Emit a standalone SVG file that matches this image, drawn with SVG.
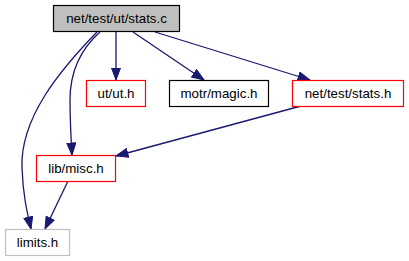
<svg xmlns="http://www.w3.org/2000/svg" width="409" height="261" viewBox="0 0 409 261">
  <style>
    .node rect { stroke-width: 1.2; }
    .node text { font-family: "Liberation Sans", Arial, Helvetica, sans-serif; font-size: 13.33px; fill: #000; text-anchor: middle; }
    .edge { fill: none; stroke: #191970; stroke-width: 1.3; marker-end: url(#arrow); }
  </style>
  <defs>
    <marker id="arrow" markerUnits="userSpaceOnUse" markerWidth="14" markerHeight="11" refX="12.5" refY="5" orient="auto">
      <path d="M0.5,0.5 L12.5,5 L0.5,9.5 z" fill="#191970" stroke="#191970" stroke-width="1"/>
    </marker>
  </defs>
  <rect width="409" height="261" fill="#fff"/>

  <!-- include edges -->
  <g id="edges">
    <path class="edge" d="M116,32 L116,80"/>
    <path class="edge" d="M133,32 L204,80"/>
    <path class="edge" d="M155,32 L310,80"/>
    <path class="edge" d="M100,32 C82,48 70,70 70,100 C70,122 71,138 72,155"/>
    <path class="edge" d="M97,32 C60,70 20,118 22,168 C23,195 27,212 31,229"/>
    <path class="edge" d="M68,181 L45,229"/>
    <path class="edge" d="M301,106 L116,156"/>
  </g>

  <g id="node-stats-c" class="node">
    <rect x="53.5" y="5.5" width="126" height="26" fill="#bfbfbf" stroke="#000"/>
    <text x="116.5" y="22.5">net/test/ut/stats.c</text>
  </g>
  <g id="node-ut-h" class="node">
    <rect x="86.5" y="80.5" width="59" height="26" fill="#fff" stroke="#ff0000"/>
    <text x="116" y="97.5">ut/ut.h</text>
  </g>
  <g id="node-magic-h" class="node">
    <rect x="169.5" y="80.5" width="99" height="26" fill="#fff" stroke="#000"/>
    <text x="219" y="97.5">motr/magic.h</text>
  </g>
  <g id="node-stats-h" class="node">
    <rect x="292.5" y="80.5" width="111" height="26" fill="#fff" stroke="#ff0000"/>
    <text x="348" y="97.5">net/test/stats.h</text>
  </g>
  <g id="node-misc-h" class="node">
    <rect x="36.5" y="155.5" width="79" height="26" fill="#fff" stroke="#ff0000"/>
    <text x="76" y="172.5">lib/misc.h</text>
  </g>
  <g id="node-limits-h" class="node">
    <rect x="5.5" y="229.5" width="64" height="26" fill="#fff" stroke="#bfbfbf"/>
    <text x="37.5" y="246.5">limits.h</text>
  </g>
</svg>
